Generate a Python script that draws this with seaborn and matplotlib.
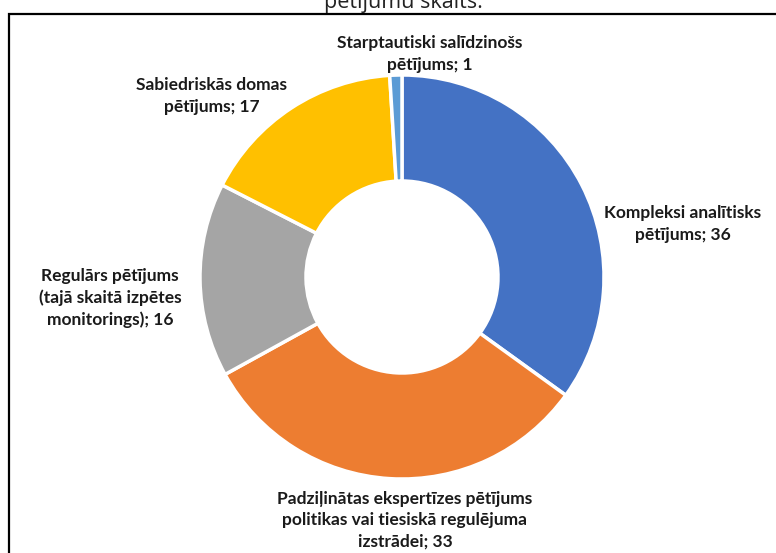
import numpy as np
import matplotlib.pyplot as plt
import seaborn as sns
from matplotlib.patches import Rectangle

# data
categories = ["Kompleksi analītisks\npētījums",
              "Padziļinātas ekspertīzes pētījums\npolitikas vai tiesiskā regulējuma\nizstrādei",
              "Regulārs pētījums\n(tajā skaitā izpētes\nmonitorings)",
              "Sabiedriskās domas\npētījums",
              "Starptautiski salīdzinošs\npētījums"]
values = [36, 33, 16, 17, 1]
colors = ["#4472C4", "#ED7D31", "#A5A5A5", "#FFC000", "#5B9BD5"]
# label centres in pixels (x, y from top)
label_pos = [(683, 224), (405, 520), (110, 298), (212, 96), (430, 54)]

sns.set_theme(style="white")
plt.rcParams['font.family'] = ['Lato', 'DejaVu Sans']

fig = plt.figure(figsize=(7.76, 5.53), dpi=100)
ax = fig.add_axes([0, 0, 1, 1])

ax.pie(values, colors=colors, startangle=90, counterclock=False,
       center=(402, 553 - 277), radius=202, frame=True,
       wedgeprops=dict(width=106, edgecolor='white', linewidth=2.5))
ax.set_xlim(0, 776)
ax.set_ylim(0, 553)
ax.set_aspect('equal')
ax.axis('off')

for cat, v, (x, y) in zip(categories, values, label_pos):
    ax.text(x, 553 - y, f"{cat}; {v}", ha='center', va='center',
            fontsize=12.5, fontweight='bold', color='#1a1a1a', linespacing=1.4)

# frame of the chart area
fig.patches.append(Rectangle((9 / 776, -0.1), 1.2, 1 - 14 / 553 + 0.1,
                             transform=fig.transFigure, fill=False,
                             edgecolor='black', linewidth=1.6))

fig.text(403 / 776, 1 - 8 / 553, "pētījumu skaits.", ha='center', va='baseline',
         fontsize=15.5, family=['Open Sans', 'DejaVu Sans'], color='#222222')

fig.savefig("out.png", dpi=100)
